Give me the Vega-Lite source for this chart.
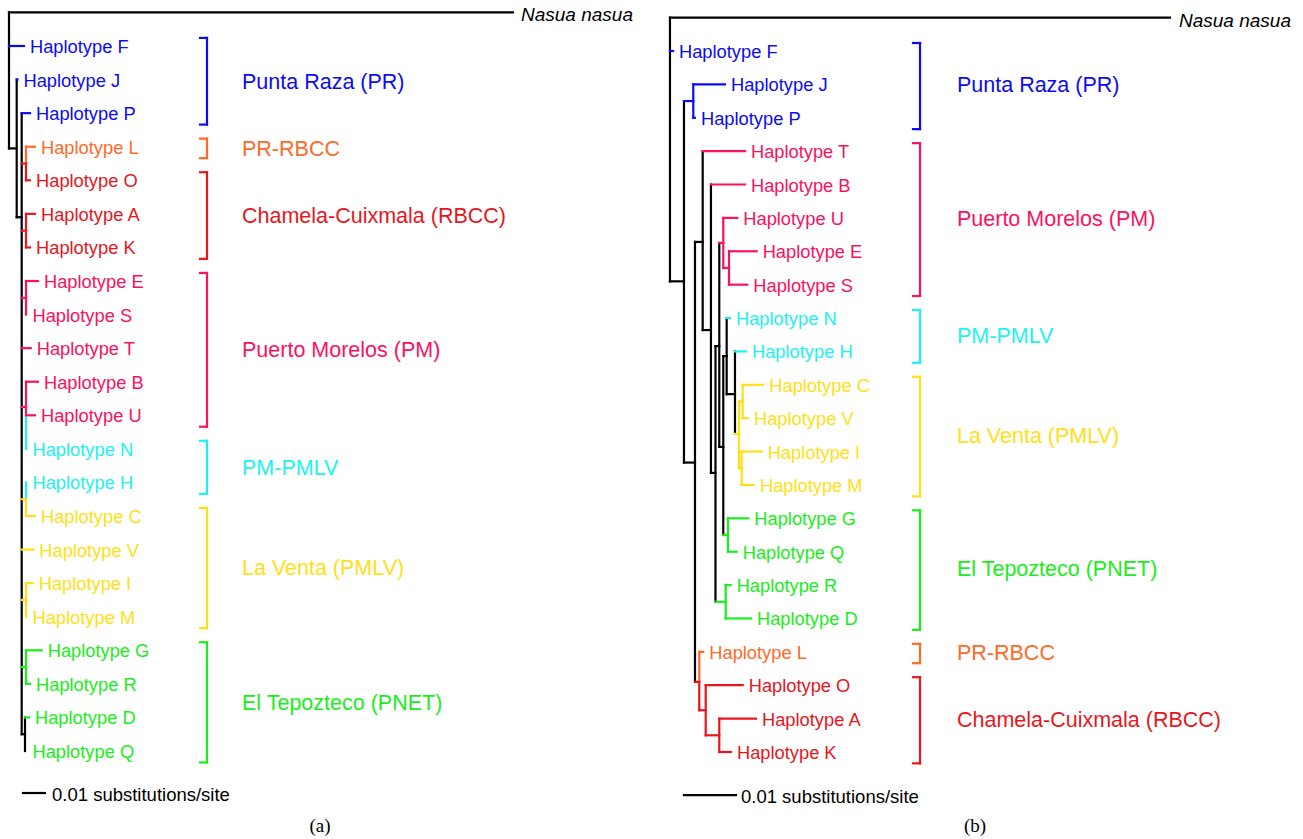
{
"$schema": "https://vega.github.io/schema/vega-lite/v6.json",
"padding": 0,
"spacing": 0,
"bounds": "flush",
"background": "#ffffff",
"config": {"view": {"stroke": null}},
"datasets": {
"segA": [
{"x":0,"x2":0.2291,"y":0,"y2":0,"g":"k"},
{"x":0,"x2":0,"y":0,"y2":4.05,"g":"k"},
{"x":0,"x2":0.0035,"y":4.05,"y2":4.05,"g":"k"},
{"x":0.0035,"x2":0.0035,"y":2,"y2":6.1,"g":"k"},
{"x":0.0035,"x2":0.00577,"y":6.1,"y2":6.1,"g":"k"},
{"x":0.00577,"x2":0.00577,"y":3,"y2":21.5,"g":"k"},
{"x":0.00577,"x2":0.00727,"y":21.5,"y2":21.5,"g":"k"},
{"x":0.00727,"x2":0.00727,"y":21,"y2":22,"g":"k"},
{"x":0,"x2":0.00682,"y":1,"y2":1,"g":"PR"},
{"x":0.0035,"x2":0.00386,"y":2,"y2":2,"g":"PR"},
{"x":0.00577,"x2":0.00955,"y":3,"y2":3,"g":"PR"},
{"x":0.00577,"x2":0.00773,"y":4.5,"y2":4.5,"g":"RBCC"},
{"x":0.00773,"x2":0.00773,"y":4,"y2":4.5,"g":"PRRBCC"},
{"x":0.00773,"x2":0.00773,"y":4.5,"y2":5,"g":"RBCC"},
{"x":0.00773,"x2":0.01182,"y":4,"y2":4,"g":"PRRBCC"},
{"x":0.00773,"x2":0.00955,"y":5,"y2":5,"g":"RBCC"},
{"x":0.00577,"x2":0.00773,"y":6.5,"y2":6.5,"g":"RBCC"},
{"x":0.00773,"x2":0.00773,"y":6,"y2":7,"g":"RBCC"},
{"x":0.00773,"x2":0.01182,"y":6,"y2":6,"g":"RBCC"},
{"x":0.00773,"x2":0.00955,"y":7,"y2":7,"g":"RBCC"},
{"x":0.00577,"x2":0.00773,"y":8.5,"y2":8.5,"g":"PM"},
{"x":0.00773,"x2":0.00773,"y":8,"y2":9,"g":"PM"},
{"x":0.00773,"x2":0.01318,"y":8,"y2":8,"g":"PM"},
{"x":0.00577,"x2":0.00986,"y":10,"y2":10,"g":"PM"},
{"x":0.00577,"x2":0.00773,"y":11.75,"y2":11.75,"g":"PM"},
{"x":0.00773,"x2":0.00773,"y":11,"y2":12,"g":"PM"},
{"x":0.00773,"x2":0.00773,"y":12,"y2":13,"g":"PMPLV"},
{"x":0.00773,"x2":0.01318,"y":11,"y2":11,"g":"PM"},
{"x":0.00773,"x2":0.01182,"y":12,"y2":12,"g":"PM"},
{"x":0.00577,"x2":0.00773,"y":14.5,"y2":14.5,"g":"PMLV"},
{"x":0.00773,"x2":0.00773,"y":14,"y2":14.5,"g":"PMPLV"},
{"x":0.00773,"x2":0.00773,"y":14.5,"y2":15,"g":"PMLV"},
{"x":0.00773,"x2":0.01182,"y":15,"y2":15,"g":"PMLV"},
{"x":0.00577,"x2":0.01105,"y":16,"y2":16,"g":"PMLV"},
{"x":0.00577,"x2":0.00773,"y":17.5,"y2":17.5,"g":"PMLV"},
{"x":0.00773,"x2":0.00773,"y":17,"y2":18,"g":"PMLV"},
{"x":0.00773,"x2":0.01077,"y":17,"y2":17,"g":"PMLV"},
{"x":0.00577,"x2":0.00773,"y":19.5,"y2":19.5,"g":"PNET"},
{"x":0.00773,"x2":0.00773,"y":19,"y2":20,"g":"PNET"},
{"x":0.00773,"x2":0.01486,"y":19,"y2":19,"g":"PNET"},
{"x":0.00773,"x2":0.00955,"y":20,"y2":20,"g":"PNET"},
{"x":0.00727,"x2":0.00909,"y":21,"y2":21,"g":"PNET"},
{"x":0.09,"x2":0.09,"y":0.76,"y2":3.34,"g":"PR"},
{"x":0.08682,"x2":0.09,"y":0.76,"y2":0.76,"g":"PR"},
{"x":0.08682,"x2":0.09,"y":3.34,"y2":3.34,"g":"PR"},
{"x":0.09,"x2":0.09,"y":3.76,"y2":4.34,"g":"PRRBCC"},
{"x":0.08682,"x2":0.09,"y":3.76,"y2":3.76,"g":"PRRBCC"},
{"x":0.08682,"x2":0.09,"y":4.34,"y2":4.34,"g":"PRRBCC"},
{"x":0.09,"x2":0.09,"y":4.76,"y2":7.34,"g":"RBCC"},
{"x":0.08682,"x2":0.09,"y":4.76,"y2":4.76,"g":"RBCC"},
{"x":0.08682,"x2":0.09,"y":7.34,"y2":7.34,"g":"RBCC"},
{"x":0.09,"x2":0.09,"y":7.76,"y2":12.34,"g":"PM"},
{"x":0.08682,"x2":0.09,"y":7.76,"y2":7.76,"g":"PM"},
{"x":0.08682,"x2":0.09,"y":12.34,"y2":12.34,"g":"PM"},
{"x":0.09,"x2":0.09,"y":12.76,"y2":14.34,"g":"PMPLV"},
{"x":0.08682,"x2":0.09,"y":12.76,"y2":12.76,"g":"PMPLV"},
{"x":0.08682,"x2":0.09,"y":14.34,"y2":14.34,"g":"PMPLV"},
{"x":0.09,"x2":0.09,"y":14.76,"y2":18.34,"g":"PMLV"},
{"x":0.08682,"x2":0.09,"y":14.76,"y2":14.76,"g":"PMLV"},
{"x":0.08682,"x2":0.09,"y":18.34,"y2":18.34,"g":"PMLV"},
{"x":0.09,"x2":0.09,"y":18.76,"y2":22.34,"g":"PNET"},
{"x":0.08682,"x2":0.09,"y":18.76,"y2":18.76,"g":"PNET"},
{"x":0.08682,"x2":0.09,"y":22.34,"y2":22.34,"g":"PNET"},
{"x":0.00636,"x2":0.01636,"y":23.25,"y2":23.25,"g":"k"}
],
"leafA": [
{"text":"Haplotype F","x":0.00682,"y":1,"g":"PR"},
{"text":"Haplotype J","x":0.00386,"y":2,"g":"PR"},
{"text":"Haplotype P","x":0.00955,"y":3,"g":"PR"},
{"text":"Haplotype L","x":0.01182,"y":4,"g":"PRRBCC"},
{"text":"Haplotype O","x":0.00955,"y":5,"g":"RBCC"},
{"text":"Haplotype A","x":0.01182,"y":6,"g":"RBCC"},
{"text":"Haplotype K","x":0.00955,"y":7,"g":"RBCC"},
{"text":"Haplotype E","x":0.01318,"y":8,"g":"PM"},
{"text":"Haplotype S","x":0.00795,"y":9,"g":"PM"},
{"text":"Haplotype T","x":0.00986,"y":10,"g":"PM"},
{"text":"Haplotype B","x":0.01318,"y":11,"g":"PM"},
{"text":"Haplotype U","x":0.01182,"y":12,"g":"PM"},
{"text":"Haplotype N","x":0.00795,"y":13,"g":"PMPLV"},
{"text":"Haplotype H","x":0.00795,"y":14,"g":"PMPLV"},
{"text":"Haplotype C","x":0.01182,"y":15,"g":"PMLV"},
{"text":"Haplotype V","x":0.01105,"y":16,"g":"PMLV"},
{"text":"Haplotype I","x":0.01077,"y":17,"g":"PMLV"},
{"text":"Haplotype M","x":0.00795,"y":18,"g":"PMLV"},
{"text":"Haplotype G","x":0.01486,"y":19,"g":"PNET"},
{"text":"Haplotype R","x":0.00955,"y":20,"g":"PNET"},
{"text":"Haplotype D","x":0.00909,"y":21,"g":"PNET"},
{"text":"Haplotype Q","x":0.00795,"y":22,"g":"PNET"}
],
"grpA": [
{"text":"Punta Raza (PR)","x":0.10591,"y":2,"g":"PR"},
{"text":"PR-RBCC","x":0.10591,"y":4,"g":"PRRBCC"},
{"text":"Chamela-Cuixmala (RBCC)","x":0.10591,"y":6,"g":"RBCC"},
{"text":"Puerto Morelos (PM)","x":0.10591,"y":10,"g":"PM"},
{"text":"PM-PMLV","x":0.10591,"y":13.5,"g":"PMPLV"},
{"text":"La Venta (PMLV)","x":0.10591,"y":16.5,"g":"PMLV"},
{"text":"El Tepozteco (PNET)","x":0.10591,"y":20.5,"g":"PNET"}
],
"miscA": [
{"text":"Nasua nasua","x":0.2291,"y":0,"g":"k","kind":"nasua"},
{"text":"0.01 substitutions/site","x":0.01636,"y":23.25,"g":"k","kind":"scale"},
{"text":"(a)","x":0.14136,"y":24.23,"g":"k","kind":"cap"}
],
"segB": [
{"x":0,"x2":0.09615,"y":0,"y2":0,"g":"k"},
{"x":0,"x2":0,"y":0,"y2":7.9,"g":"k"},
{"x":0,"x2":0.00269,"y":7.9,"y2":7.9,"g":"k"},
{"x":0.00269,"x2":0.00269,"y":2.5,"y2":13.33,"g":"k"},
{"x":0.00269,"x2":0.00481,"y":13.33,"y2":13.33,"g":"k"},
{"x":0.00481,"x2":0.00481,"y":6.72,"y2":19.9,"g":"k"},
{"x":0.00481,"x2":0.00629,"y":6.72,"y2":6.72,"g":"k"},
{"x":0.00629,"x2":0.00629,"y":4,"y2":9.36,"g":"k"},
{"x":0.00629,"x2":0.00788,"y":9.36,"y2":9.36,"g":"k"},
{"x":0.00788,"x2":0.00788,"y":5,"y2":13.64,"g":"k"},
{"x":0.00788,"x2":0.00875,"y":13.64,"y2":13.64,"g":"k"},
{"x":0.00875,"x2":0.00875,"y":9.84,"y2":17.5,"g":"k"},
{"x":0.00875,"x2":0.00948,"y":9.84,"y2":9.84,"g":"k"},
{"x":0.00948,"x2":0.00948,"y":6.75,"y2":12.86,"g":"k"},
{"x":0.00948,"x2":0.01025,"y":12.86,"y2":12.86,"g":"k"},
{"x":0.01025,"x2":0.01025,"y":10.14,"y2":15.5,"g":"k"},
{"x":0.01025,"x2":0.0109,"y":10.14,"y2":10.14,"g":"k"},
{"x":0.0109,"x2":0.0109,"y":9,"y2":11.28,"g":"k"},
{"x":0.0109,"x2":0.0125,"y":11.28,"y2":11.28,"g":"k"},
{"x":0.0125,"x2":0.0125,"y":10,"y2":12.47,"g":"k"},
{"x":0.0125,"x2":0.01327,"y":12.47,"y2":12.47,"g":"PMLV"},
{"x":0.01327,"x2":0.01327,"y":11.5,"y2":13.5,"g":"PMLV"},
{"x":0.01327,"x2":0.01398,"y":11.5,"y2":11.5,"g":"PMLV"},
{"x":0.01398,"x2":0.01398,"y":11,"y2":12,"g":"PMLV"},
{"x":0.01398,"x2":0.01794,"y":11,"y2":11,"g":"PMLV"},
{"x":0.01398,"x2":0.015,"y":12,"y2":12,"g":"PMLV"},
{"x":0.01327,"x2":0.01379,"y":13.5,"y2":13.5,"g":"PMLV"},
{"x":0.01379,"x2":0.01379,"y":13,"y2":14,"g":"PMLV"},
{"x":0.01379,"x2":0.01763,"y":13,"y2":13,"g":"PMLV"},
{"x":0.01379,"x2":0.01615,"y":14,"y2":14,"g":"PMLV"},
{"x":0.0109,"x2":0.01154,"y":9,"y2":9,"g":"PMPLV"},
{"x":0.0125,"x2":0.01462,"y":10,"y2":10,"g":"PMPLV"},
{"x":0,"x2":0.00058,"y":1,"y2":1,"g":"PR"},
{"x":0.00269,"x2":0.00448,"y":2.5,"y2":2.5,"g":"PR"},
{"x":0.00448,"x2":0.00448,"y":2,"y2":3,"g":"PR"},
{"x":0.00448,"x2":0.01058,"y":2,"y2":2,"g":"PR"},
{"x":0.00448,"x2":0.00481,"y":3,"y2":3,"g":"PR"},
{"x":0.00629,"x2":0.01442,"y":4,"y2":4,"g":"PM"},
{"x":0.00788,"x2":0.01442,"y":5,"y2":5,"g":"PM"},
{"x":0.00948,"x2":0.01025,"y":6.75,"y2":6.75,"g":"PM"},
{"x":0.01025,"x2":0.01025,"y":6,"y2":7.5,"g":"PM"},
{"x":0.01025,"x2":0.01294,"y":6,"y2":6,"g":"PM"},
{"x":0.01025,"x2":0.01135,"y":7.5,"y2":7.5,"g":"PM"},
{"x":0.01135,"x2":0.01135,"y":7,"y2":8,"g":"PM"},
{"x":0.01135,"x2":0.01667,"y":7,"y2":7,"g":"PM"},
{"x":0.01135,"x2":0.01487,"y":8,"y2":8,"g":"PM"},
{"x":0.01025,"x2":0.01115,"y":15.5,"y2":15.5,"g":"PNET"},
{"x":0.01115,"x2":0.01115,"y":15,"y2":16,"g":"PNET"},
{"x":0.01115,"x2":0.01506,"y":15,"y2":15,"g":"PNET"},
{"x":0.01115,"x2":0.01283,"y":16,"y2":16,"g":"PNET"},
{"x":0.00875,"x2":0.01071,"y":17.5,"y2":17.5,"g":"PNET"},
{"x":0.01071,"x2":0.01071,"y":17,"y2":18,"g":"PNET"},
{"x":0.01071,"x2":0.01167,"y":17,"y2":17,"g":"PNET"},
{"x":0.01071,"x2":0.01558,"y":18,"y2":18,"g":"PNET"},
{"x":0.00481,"x2":0.00563,"y":19.9,"y2":19.9,"g":"RBCC"},
{"x":0.00563,"x2":0.00563,"y":19,"y2":19.9,"g":"PRRBCC"},
{"x":0.00563,"x2":0.00563,"y":19.9,"y2":20.75,"g":"RBCC"},
{"x":0.00563,"x2":0.0064,"y":19,"y2":19,"g":"PRRBCC"},
{"x":0.00563,"x2":0.00687,"y":20.75,"y2":20.75,"g":"RBCC"},
{"x":0.00687,"x2":0.00687,"y":20,"y2":21.5,"g":"RBCC"},
{"x":0.00687,"x2":0.01398,"y":20,"y2":20,"g":"RBCC"},
{"x":0.00687,"x2":0.00948,"y":21.5,"y2":21.5,"g":"RBCC"},
{"x":0.00948,"x2":0.00948,"y":21,"y2":22,"g":"RBCC"},
{"x":0.00948,"x2":0.01654,"y":21,"y2":21,"g":"RBCC"},
{"x":0.00948,"x2":0.01173,"y":22,"y2":22,"g":"RBCC"},
{"x":0.04808,"x2":0.04808,"y":0.76,"y2":3.34,"g":"PR"},
{"x":0.04673,"x2":0.04808,"y":0.76,"y2":0.76,"g":"PR"},
{"x":0.04673,"x2":0.04808,"y":3.34,"y2":3.34,"g":"PR"},
{"x":0.04808,"x2":0.04808,"y":3.76,"y2":8.34,"g":"PM"},
{"x":0.04673,"x2":0.04808,"y":3.76,"y2":3.76,"g":"PM"},
{"x":0.04673,"x2":0.04808,"y":8.34,"y2":8.34,"g":"PM"},
{"x":0.04808,"x2":0.04808,"y":8.76,"y2":10.34,"g":"PMPLV"},
{"x":0.04673,"x2":0.04808,"y":8.76,"y2":8.76,"g":"PMPLV"},
{"x":0.04673,"x2":0.04808,"y":10.34,"y2":10.34,"g":"PMPLV"},
{"x":0.04808,"x2":0.04808,"y":10.76,"y2":14.34,"g":"PMLV"},
{"x":0.04673,"x2":0.04808,"y":10.76,"y2":10.76,"g":"PMLV"},
{"x":0.04673,"x2":0.04808,"y":14.34,"y2":14.34,"g":"PMLV"},
{"x":0.04808,"x2":0.04808,"y":14.76,"y2":18.34,"g":"PNET"},
{"x":0.04673,"x2":0.04808,"y":14.76,"y2":14.76,"g":"PNET"},
{"x":0.04673,"x2":0.04808,"y":18.34,"y2":18.34,"g":"PNET"},
{"x":0.04808,"x2":0.04808,"y":18.76,"y2":19.34,"g":"PRRBCC"},
{"x":0.04673,"x2":0.04808,"y":18.76,"y2":18.76,"g":"PRRBCC"},
{"x":0.04673,"x2":0.04808,"y":19.34,"y2":19.34,"g":"PRRBCC"},
{"x":0.04808,"x2":0.04808,"y":19.76,"y2":22.34,"g":"RBCC"},
{"x":0.04673,"x2":0.04808,"y":19.76,"y2":19.76,"g":"RBCC"},
{"x":0.04673,"x2":0.04808,"y":22.34,"y2":22.34,"g":"RBCC"},
{"x":0.00269,"x2":0.01269,"y":23.29,"y2":23.29,"g":"k"}
],
"leafB": [
{"text":"Haplotype F","x":0.00058,"y":1,"g":"PR"},
{"text":"Haplotype J","x":0.01058,"y":2,"g":"PR"},
{"text":"Haplotype P","x":0.00481,"y":3,"g":"PR"},
{"text":"Haplotype T","x":0.01442,"y":4,"g":"PM"},
{"text":"Haplotype B","x":0.01442,"y":5,"g":"PM"},
{"text":"Haplotype U","x":0.01294,"y":6,"g":"PM"},
{"text":"Haplotype E","x":0.01667,"y":7,"g":"PM"},
{"text":"Haplotype S","x":0.01487,"y":8,"g":"PM"},
{"text":"Haplotype N","x":0.01154,"y":9,"g":"PMPLV"},
{"text":"Haplotype H","x":0.01462,"y":10,"g":"PMPLV"},
{"text":"Haplotype C","x":0.01794,"y":11,"g":"PMLV"},
{"text":"Haplotype V","x":0.015,"y":12,"g":"PMLV"},
{"text":"Haplotype I","x":0.01763,"y":13,"g":"PMLV"},
{"text":"Haplotype M","x":0.01615,"y":14,"g":"PMLV"},
{"text":"Haplotype G","x":0.01506,"y":15,"g":"PNET"},
{"text":"Haplotype Q","x":0.01283,"y":16,"g":"PNET"},
{"text":"Haplotype R","x":0.01167,"y":17,"g":"PNET"},
{"text":"Haplotype D","x":0.01558,"y":18,"g":"PNET"},
{"text":"Haplotype L","x":0.0064,"y":19,"g":"PRRBCC"},
{"text":"Haplotype O","x":0.01398,"y":20,"g":"RBCC"},
{"text":"Haplotype A","x":0.01654,"y":21,"g":"RBCC"},
{"text":"Haplotype K","x":0.01173,"y":22,"g":"RBCC"}
],
"grpB": [
{"text":"Punta Raza (PR)","x":0.05519,"y":2,"g":"PR"},
{"text":"Puerto Morelos (PM)","x":0.05519,"y":6,"g":"PM"},
{"text":"PM-PMLV","x":0.05519,"y":9.5,"g":"PMPLV"},
{"text":"La Venta (PMLV)","x":0.05519,"y":12.5,"g":"PMLV"},
{"text":"El Tepozteco (PNET)","x":0.05519,"y":16.5,"g":"PNET"},
{"text":"PR-RBCC","x":0.05519,"y":19,"g":"PRRBCC"},
{"text":"Chamela-Cuixmala (RBCC)","x":0.05519,"y":21,"g":"RBCC"}
],
"miscB": [
{"text":"Nasua nasua","x":0.09615,"y":0,"g":"k","kind":"nasua"},
{"text":"0.01 substitutions/site","x":0.01269,"y":23.29,"g":"k","kind":"scale"},
{"text":"(b)","x":0.05865,"y":24.22,"g":"k","kind":"cap"}
]
},
"hconcat": [
{
"width": 655, "height": 839,
"encoding": {
"x": {"field": "x", "type": "quantitative", "scale": {"domain": [-0.00409, 0.29364], "nice": false, "zero": false}, "axis": null},
"y": {"field": "y", "type": "quantitative", "scale": {"domain": [-0.37, 24.62], "nice": false, "zero": false, "reverse": true}, "axis": null},
"color": {"field": "g", "type": "nominal", "scale": {"domain": ["k","PR","PRRBCC","RBCC","PM","PMPLV","PMLV","PNET"], "range": ["#000000","#0b0bf5","#ff6a28","#e8161c","#fb1160","#1df2f2","#ffdf16","#1aee1a"]}, "legend": null}
},
"layer": [
{"data": {"name": "segA"}, "mark": {"type": "rule", "strokeWidth": 2.2, "strokeCap": "square"}, "encoding": {"x2": {"field": "x2"}, "y2": {"field": "y2"}}},
{"data": {"name": "leafA"}, "mark": {"type": "text", "align": "left", "baseline": "middle", "dx": 6, "dy": 2, "fontSize": 18.3, "font": "Liberation Sans"}, "encoding": {"text": {"field": "text"}}},
{"data": {"name": "grpA"}, "mark": {"type": "text", "align": "left", "baseline": "middle", "dy": 3, "fontSize": 21.5, "font": "Liberation Sans"}, "encoding": {"text": {"field": "text"}}},
{"data": {"name": "miscA"}, "transform": [{"filter": "datum.kind == 'nasua'"}], "mark": {"type": "text", "align": "left", "baseline": "middle", "dx": 8, "dy": 3, "fontSize": 19, "fontStyle": "italic", "font": "Liberation Sans"}, "encoding": {"text": {"field": "text"}}},
{"data": {"name": "miscA"}, "transform": [{"filter": "datum.kind == 'scale'"}], "mark": {"type": "text", "align": "left", "baseline": "middle", "dx": 7, "dy": 2, "fontSize": 18.5, "font": "Liberation Sans"}, "encoding": {"text": {"field": "text"}}},
{"data": {"name": "miscA"}, "transform": [{"filter": "datum.kind == 'cap'"}], "mark": {"type": "text", "align": "center", "baseline": "middle", "fontSize": 19, "font": "Liberation Serif"}, "encoding": {"text": {"field": "text"}}}
]
},
{
"width": 648, "height": 839,
"encoding": {
"x": {"field": "x", "type": "quantitative", "scale": {"domain": [-0.00288, 0.12173], "nice": false, "zero": false}, "axis": null},
"y": {"field": "y", "type": "quantitative", "scale": {"domain": [-0.528, 24.607], "nice": false, "zero": false, "reverse": true}, "axis": null},
"color": {"field": "g", "type": "nominal", "scale": {"domain": ["k","PR","PRRBCC","RBCC","PM","PMPLV","PMLV","PNET"], "range": ["#000000","#0b0bf5","#ff6a28","#e8161c","#fb1160","#1df2f2","#ffdf16","#1aee1a"]}, "legend": null}
},
"layer": [
{"data": {"name": "segB"}, "mark": {"type": "rule", "strokeWidth": 2.2, "strokeCap": "square"}, "encoding": {"x2": {"field": "x2"}, "y2": {"field": "y2"}}},
{"data": {"name": "leafB"}, "mark": {"type": "text", "align": "left", "baseline": "middle", "dx": 6, "dy": 2, "fontSize": 18.3, "font": "Liberation Sans"}, "encoding": {"text": {"field": "text"}}},
{"data": {"name": "grpB"}, "mark": {"type": "text", "align": "left", "baseline": "middle", "dy": 2, "fontSize": 21.5, "font": "Liberation Sans"}, "encoding": {"text": {"field": "text"}}},
{"data": {"name": "miscB"}, "transform": [{"filter": "datum.kind == 'nasua'"}], "mark": {"type": "text", "align": "left", "baseline": "middle", "dx": 9, "dy": 3, "fontSize": 19, "fontStyle": "italic", "font": "Liberation Sans"}, "encoding": {"text": {"field": "text"}}},
{"data": {"name": "miscB"}, "transform": [{"filter": "datum.kind == 'scale'"}], "mark": {"type": "text", "align": "left", "baseline": "middle", "dx": 5, "dy": 2, "fontSize": 18.5, "font": "Liberation Sans"}, "encoding": {"text": {"field": "text"}}},
{"data": {"name": "miscB"}, "transform": [{"filter": "datum.kind == 'cap'"}], "mark": {"type": "text", "align": "center", "baseline": "middle", "fontSize": 19, "font": "Liberation Serif"}, "encoding": {"text": {"field": "text"}}}
]
}
]
}
